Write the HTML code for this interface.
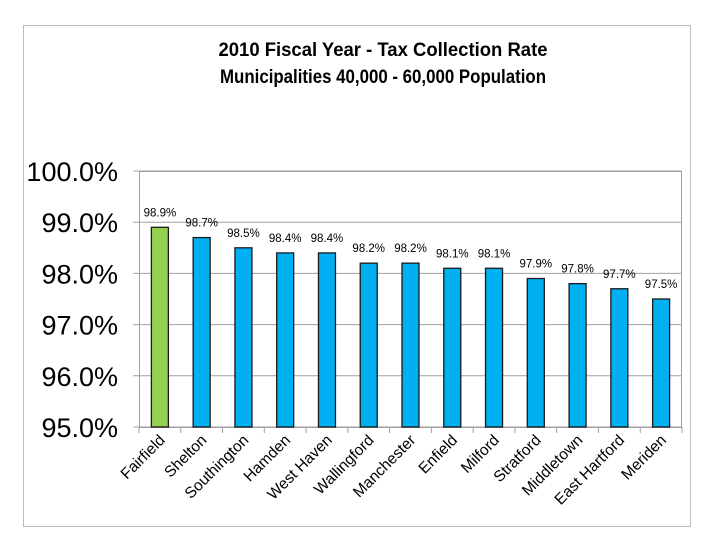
<!DOCTYPE html>
<html><head><meta charset="utf-8"><style>
html,body{margin:0;padding:0;background:#fff;}
svg{display:block;font-family:"Liberation Sans",Arial,sans-serif;}
</style></head><body>
<svg id="chart" width="720" height="540" viewBox="0 0 720 540">
<rect x="23.5" y="25.5" width="667" height="501" fill="#fff" stroke="#bdbdbd" stroke-width="1"/>
<text x="383" y="56" text-anchor="middle" font-size="19" font-weight="bold" textLength="329" lengthAdjust="spacingAndGlyphs">2010 Fiscal Year - Tax Collection Rate</text>
<text x="383" y="83" text-anchor="middle" font-size="19" font-weight="bold" textLength="326" lengthAdjust="spacingAndGlyphs">Municipalities 40,000 - 60,000 Population</text>
<g id="plot"></g>
</svg>
<script>
const categories=["Fairfield","Shelton","Southington","Hamden","West Haven","Wallingford","Manchester","Enfield","Milford","Stratford","Middletown","East Hartford","Meriden"];
const values=[98.9,98.7,98.5,98.4,98.4,98.2,98.2,98.1,98.1,97.9,97.8,97.7,97.5];
const valueLabels=["98.9%","98.7%","98.5%","98.4%","98.4%","98.2%","98.2%","98.1%","98.1%","97.9%","97.8%","97.7%","97.5%"];
const yTicks=[95,96,97,98,99,100];
const yTickLabels=["95.0%","96.0%","97.0%","98.0%","99.0%","100.0%"];
const L=139,R=682,T=171,B=427,yMin=95,yMax=100;
const ns="http://www.w3.org/2000/svg";
const g=document.getElementById("plot");
function y(v){return B-(v-yMin)/(yMax-yMin)*(B-T);}
const step=(R-L)/categories.length;
function xc(i){return L+step*(i+0.5);}
function mk(tag,attrs,parent){const e=document.createElementNS(ns,tag);for(const k in attrs)e.setAttribute(k,attrs[k]);(parent||g).appendChild(e);return e;}
yTicks.forEach((t,i)=>{
  const l=mk("line",{x1:L-6,x2:R,y1:y(t),y2:y(t),stroke:"#a0a0a0","stroke-width":1});
  
  
  const tx=mk("text",{x:118,y:y(t)+10,"text-anchor":"end","font-size":27});
  tx.textContent=yTickLabels[i];
  
  
});
const frame=mk("rect",{x:L+0.5,y:T+0.5,width:R-L-1,height:B-T,fill:"none",stroke:"#a0a0a0"});


for(let i=0;i<=categories.length;i++){
  const tk=mk("line",{x1:L+step*i,x2:L+step*i,y1:B,y2:B+6,stroke:"#a0a0a0"});
  
  
}
categories.forEach((c,i)=>{
  const bw=17,x=xc(i)-bw/2;
  const b=mk("rect",{x:x,y:y(values[i]),width:bw,height:B-y(values[i]),fill:i===0?"#92d050":"#00b0f0",stroke:"#1a1a1a","stroke-width":1.3});
  
  
  const vl=mk("text",{x:xc(i),y:y(values[i])-11,"text-anchor":"middle","font-size":11.5});
  vl.textContent=valueLabels[i];
  
  
  const ax=xc(i)+6, ay=B+14;
  const cl=mk("text",{x:ax,y:ay,"text-anchor":"end","font-size":15.5,transform:"rotate(-45 "+ax+" "+ay+")"});
  cl.textContent=c;
  
  
});
</script>
</body></html>
